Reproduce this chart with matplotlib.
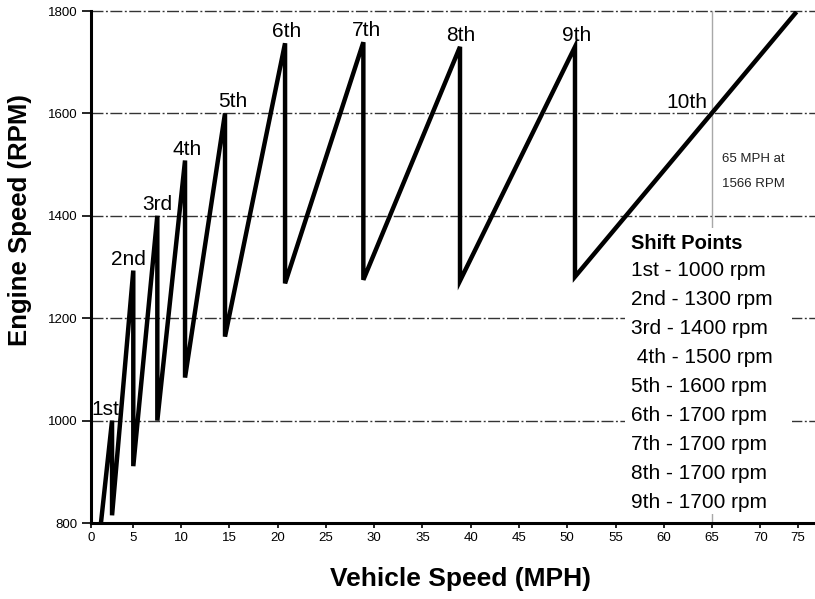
import matplotlib
matplotlib.use("Agg")
import matplotlib.pyplot as plt
from matplotlib.patches import Rectangle

# Data
START_SPEED = 1.7
START_RPM = 800
GEARS = ['1st', '2nd', '3rd', '4th', '5th', '6th', '7th', '8th', '9th']
SHIFT_SPEED = [2.85, 5.05, 7.54, 10.41, 14.55, 20.77, 28.88, 38.89, 50.8]
PEAK_RPM = [1000, 1293, 1400, 1508, 1600, 1737, 1739, 1730, 1730]
DROP_RPM = [815, 911, 1000, 1084, 1164, 1268, 1275, 1273, 1281]
END_SPEED = 73.6
END_RPM = 1795

MARK_SPEED = 65
MARK_RPM = 1600
TOP_GEAR = '10th'
NOTE = ['65 MPH at', '1566 RPM']

SHIFT_TITLE = 'Shift Points'
SHIFT_LINES = ['1st - 1000 rpm', '2nd - 1300 rpm', '3rd - 1400 rpm',
               ' 4th - 1500 rpm', '5th - 1600 rpm', '6th - 1700 rpm',
               '7th - 1700 rpm', '8th - 1700 rpm', '9th - 1700 rpm']

XTICK_POS = [0.7, 5, 10, 15, 20, 25, 30, 35, 40, 45, 50, 55, 60, 65, 70, 73.9]
XTICK_LABELS = ['0', '5', '10', '15', '20', '25', '30', '35', '40', '45',
                '50', '55', '60', '65', '70', '75']
YTICKS = [800, 1000, 1200, 1400, 1600, 1800]

# small horizontal nudges (pixels) for the gear labels
LABEL_DX = [-7, -5, 0, 2, 8, 2, 3, 1, 2]

plt.rcParams['font.family'] = ['Liberation Sans', 'DejaVu Sans']

W, H = 815, 599
fig = plt.figure(figsize=(W / 100, H / 100), dpi=100)
ax = fig.add_axes([91 / W, 76 / H, 724 / W, 512 / H])

# build the saw-tooth path
speed = [START_SPEED]
rpm = [START_RPM]
for s, p, d in zip(SHIFT_SPEED, PEAK_RPM, DROP_RPM):
    speed += [s, s]
    rpm += [p, d]
speed.append(END_SPEED)
rpm.append(END_RPM)

ax.set_xlim(0.67, 75.66)
ax.set_ylim(800, 1800)

# dash-dot grid lines
for y in YTICKS[1:]:
    ax.axhline(y, color='#333333', lw=1.0, linestyle=(0, (8.6, 1.8, 1.4, 1.8)),
               zorder=1, clip_on=False)
ax.axvline(MARK_SPEED, color='#a8a8a8', lw=1.0, zorder=1)

ax.plot(speed, rpm, color='black', lw=3.2, solid_joinstyle='miter', zorder=3)

for g, s, p, dx in zip(GEARS, SHIFT_SPEED, PEAK_RPM, LABEL_DX):
    ax.annotate(g, (s, p), xytext=(dx, 6), textcoords='offset pixels',
                ha='center', va='baseline', fontsize=15)
ax.annotate(TOP_GEAR, (MARK_SPEED, MARK_RPM), xytext=(-5, 5),
            textcoords='offset pixels', ha='right', va='baseline', fontsize=15)

# note next to the 65 mph marker
for i, line in enumerate(NOTE):
    fig.text(722 / W, 1 - (162 + 25 * i) / H, line, fontsize=9.5,
             ha='left', va='baseline', color='#222222')

# shift points block with white background
fig.patches.append(Rectangle((625 / W, 1 - 514 / H), 167 / W, 286 / H,
                             transform=fig.transFigure, facecolor='white',
                             edgecolor='none', zorder=2))
fig.text(631 / W, 1 - 248.7 / H, SHIFT_TITLE, fontsize=14.5, fontweight='bold',
         ha='left', va='baseline', zorder=4)
for i, line in enumerate(SHIFT_LINES):
    fig.text(631 / W, 1 - (275.7 + 29 * i) / H, line, fontsize=15,
             ha='left', va='baseline', zorder=4)

ax.set_xticks(XTICK_POS)
ax.set_xticklabels(XTICK_LABELS)
ax.set_yticks(YTICKS)
ax.tick_params(axis='x', direction='out', length=3.6, width=1.2, pad=3, labelsize=9.5)
ax.tick_params(axis='y', direction='out', length=6.5, width=1.2, pad=3, labelsize=9.5)

for side in ['top', 'right']:
    ax.spines[side].set_visible(False)
for side in ['left', 'bottom']:
    ax.spines[side].set_linewidth(2.2)

fig.text(20 / W, 1 - 220 / H, 'Engine Speed (RPM)', rotation=90, fontsize=18.5,
         fontweight='bold', ha='center', va='center')
fig.text(461 / W, 1 - 579 / H, 'Vehicle Speed (MPH)', fontsize=19,
         fontweight='bold', ha='center', va='center')

fig.savefig('out.png', dpi=100)
